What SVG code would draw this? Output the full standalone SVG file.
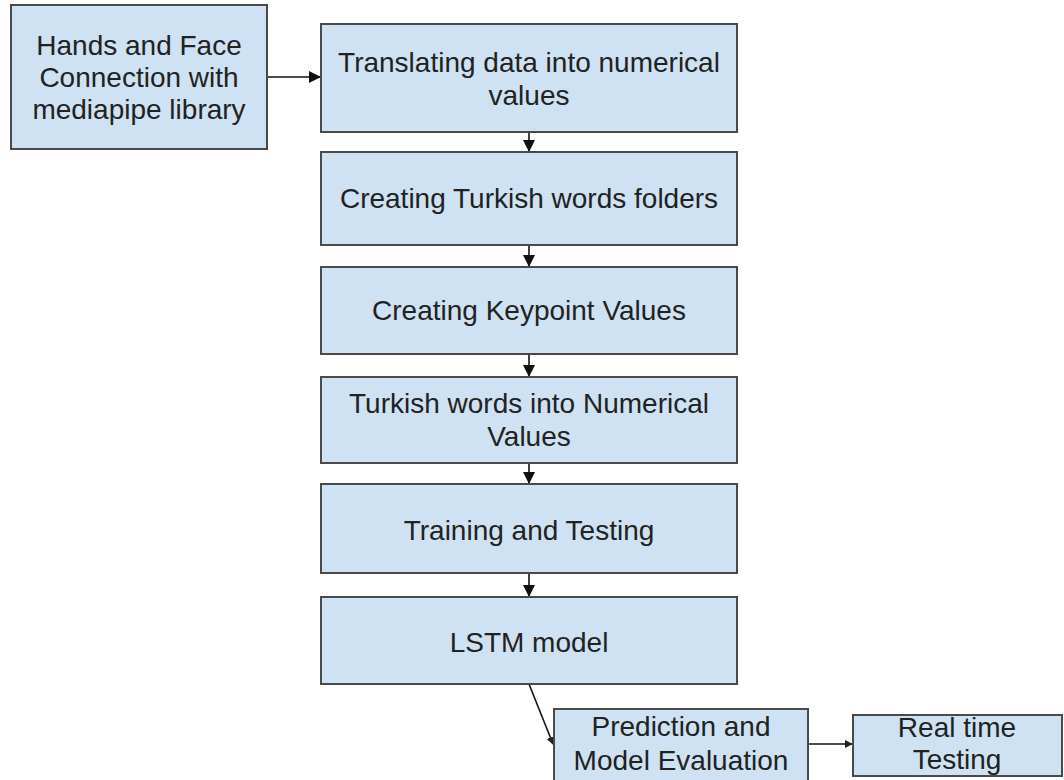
<svg xmlns="http://www.w3.org/2000/svg" width="1064" height="780" viewBox="0 0 1064 780">
<style>
.box{fill:#cfe2f3;stroke:#4a4a4a;stroke-width:2}
.t{font-family:"Liberation Sans",Arial,sans-serif;font-size:28px;fill:#222222;text-anchor:middle}
.c{stroke:#111;stroke-width:1.6;fill:none}
</style>
<defs>
<marker id="ah" markerWidth="12" markerHeight="12" refX="11" refY="6" orient="auto" markerUnits="userSpaceOnUse">
<path d="M0,0 L12,6 L0,12 z" fill="#111"/>
</marker>
<marker id="ahs" markerWidth="8" markerHeight="8" refX="7" refY="4" orient="auto" markerUnits="userSpaceOnUse">
<path d="M0,0 L8,4 L0,8 z" fill="#222"/>
</marker>
</defs>
<rect width="1064" height="780" fill="#ffffff"/>
<g id="connectors">
<line class="c" x1="267" y1="77" x2="320" y2="77" marker-end="url(#ah)"/>
<line class="c" x1="529" y1="132" x2="529" y2="151" marker-end="url(#ah)"/>
<line class="c" x1="529" y1="245" x2="529" y2="266" marker-end="url(#ah)"/>
<line class="c" x1="529" y1="354" x2="529" y2="376" marker-end="url(#ah)"/>
<line class="c" x1="529" y1="463" x2="529" y2="483" marker-end="url(#ah)"/>
<line class="c" x1="529" y1="573" x2="529" y2="596" marker-end="url(#ah)"/>
<line class="c" x1="529" y1="684" x2="553" y2="744" marker-end="url(#ahs)"/>
<line class="c" x1="808" y1="744" x2="852" y2="744" stroke="#444" marker-end="url(#ahs)"/>
</g>
<g id="n-hands">
<rect class="box" x="11" y="5" width="256" height="144"/>
<text class="t" x="139" y="55">Hands and Face</text>
<text class="t" x="139" y="87">Connection with</text>
<text class="t" x="139" y="119">mediapipe library</text>
</g>
<g id="n-translating">
<rect class="box" x="321" y="24" width="416" height="108"/>
<text class="t" x="529" y="72">Translating data into numerical</text>
<text class="t" x="529" y="105">values</text>
</g>
<g id="n-folders">
<rect class="box" x="321" y="152" width="416" height="93"/>
<text class="t" x="529" y="208">Creating Turkish words folders</text>
</g>
<g id="n-keypoint">
<rect class="box" x="321" y="267" width="416" height="87"/>
<text class="t" x="529" y="320">Creating Keypoint Values</text>
</g>
<g id="n-numerical">
<rect class="box" x="321" y="377" width="416" height="86"/>
<text class="t" x="529" y="413">Turkish words into Numerical</text>
<text class="t" x="529" y="446">Values</text>
</g>
<g id="n-training">
<rect class="box" x="321" y="484" width="416" height="89"/>
<text class="t" x="529" y="540">Training and Testing</text>
</g>
<g id="n-lstm">
<rect class="box" x="321" y="597" width="416" height="87"/>
<text class="t" x="529" y="652">LSTM model</text>
</g>
<g id="n-prediction">
<rect class="box" x="554" y="709" width="254" height="75"/>
<text class="t" x="681" y="736">Prediction and</text>
<text class="t" x="681" y="770">Model Evaluation</text>
</g>
<g id="n-realtime">
<rect class="box" x="853" y="715" width="209" height="61"/>
<text class="t" x="957" y="737">Real time</text>
<text class="t" x="957" y="769">Testing</text>
</g>
</svg>
